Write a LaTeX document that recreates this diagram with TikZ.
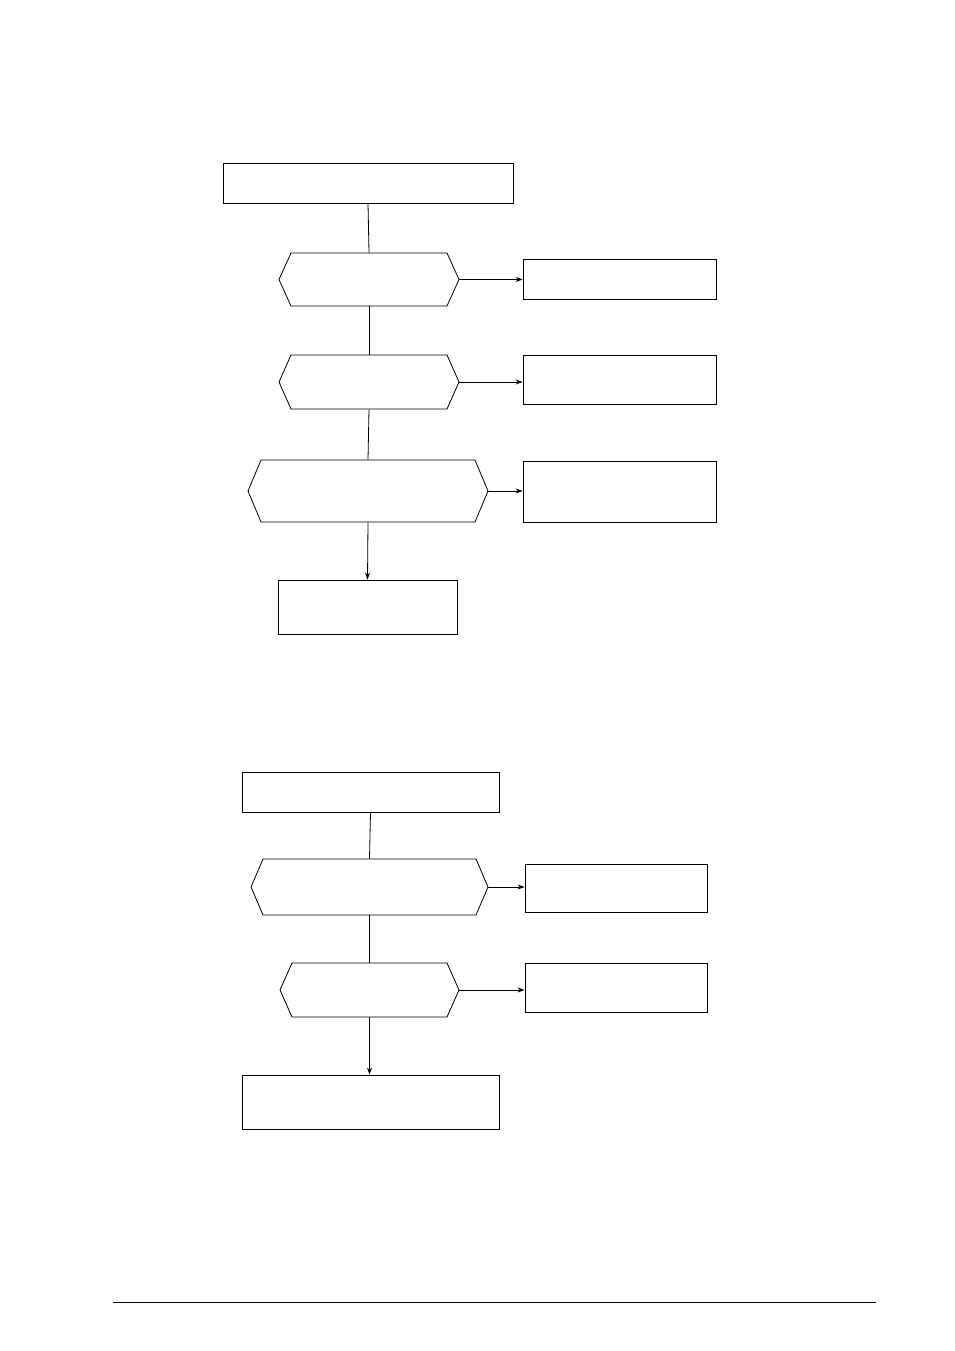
\documentclass[tikz,border=0pt]{standalone}
\usetikzlibrary{arrows.meta}
\begin{document}
\begin{tikzpicture}[x=1pt,y=-1pt,line width=0.8pt,
  boxn/.style={draw,inner sep=0},
  arr/.style={-{Stealth[length=7pt,width=5pt]}}]
\useasboundingbox (0,0) rectangle (954,1351);
\newcommand{\rbox}[5]{\node[boxn,minimum width=#4-#2,minimum height=#5-#3] (#1) at ({(#2+#4)/2},{(#3+#5)/2}) {};}
\newcommand{\hexa}[6]{% name,x1,y1,x2,y2,cut
  \draw (#2,{(#3+#5)/2}) -- (#2+#6,#3) -- (#4-#6,#3) -- (#4,{(#3+#5)/2}) -- (#4-#6,#5) -- (#2+#6,#5) -- cycle;
  \node[inner sep=0,minimum width=#4-#2,minimum height=#5-#3] (#1) at ({(#2+#4)/2},{(#3+#5)/2}) {};}
% top chart
\rbox{b1}{223}{163}{513}{203}
\hexa{h1}{279}{253}{459}{306}{12}
\rbox{b2}{523}{259}{716}{299}
\hexa{h2}{279}{355}{459}{409}{12}
\rbox{b3}{523}{355}{716}{404}
\hexa{h3}{248}{460}{488}{522}{13}
\rbox{b4}{523}{461}{716}{522}
\rbox{b5}{278}{580}{457}{634}
\draw (b1.south) -- (h1.north);
\draw (h1.south) -- (h2.north);
\draw (h2.south) -- (h3.north);
\draw[arr] (h3.south) -- (b5.north);
\draw[arr] (h1.east) -- (b2.west|-h1.east);
\draw[arr] (h2.east) -- (b3.west|-h2.east);
\draw[arr] (h3.east) -- (b4.west|-h3.east);
% bottom chart
\rbox{b6}{242}{772}{499}{812}
\hexa{h4}{251}{859}{488}{915}{12}
\rbox{b7}{525}{864}{707}{912}
\hexa{h5}{280}{963}{459}{1017}{12}
\rbox{b8}{525}{963}{707}{1012}
\rbox{b9}{242}{1075}{499}{1129}
\draw (b6.south) -- (h4.north);
\draw (h4.south) -- (h5.north -| h4.south);
\draw[arr] (h5.south -| h4.south) -- (b9.north -| h4.south);
\draw[arr] (h4.east) -- (b7.west|-h4.east);
\draw[arr] (h5.east) -- (b8.west|-h5.east);
\coordinate (f1) at (113,1302); \coordinate (f2) at (876,1302);
\draw (f1) -- (f2);
\end{tikzpicture}
\end{document}
